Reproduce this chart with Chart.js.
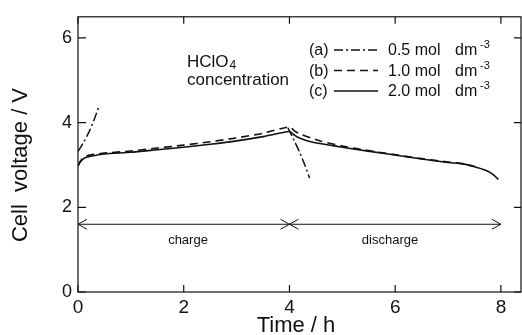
<!DOCTYPE html>
<html>
<head>
<meta charset="utf-8">
<script src="https://cdn.jsdelivr.net/npm/chart.js@4"></script>
<style>
  html, body { margin: 0; padding: 0; background: #fff; overflow: hidden; }
  canvas { display: block; }
</style>
</head>
<body>
<canvas id="cell" width="522" height="335"></canvas>
<script>
// (c) 2.0 mol dm-3, full charge then discharge
const timeC = [0, 0.05, 0.13, 0.3, 0.5, 1.0, 1.5, 2.0, 2.5, 3.0, 3.5, 4.0, 4.1, 4.2, 4.4, 4.75, 5.0, 5.3, 5.8, 6.5, 7.0, 7.3, 7.5, 7.7, 7.85, 7.95];
const voltC = [2.98, 3.08, 3.17, 3.22, 3.26, 3.30, 3.36, 3.42, 3.49, 3.57, 3.67, 3.79, 3.70, 3.63, 3.55, 3.47, 3.42, 3.36, 3.27, 3.14, 3.06, 3.02, 2.96, 2.88, 2.78, 2.66];

// (b) 1.0 mol dm-3
const timeB = [0, 0.05, 0.13, 0.3, 0.5, 1.0, 1.5, 2.0, 2.5, 3.0, 3.5, 4.0, 4.1, 4.2, 4.4, 4.6, 5.0, 5.3, 5.8, 6.5, 7.0, 7.3, 7.5];
const voltB = [2.99, 3.10, 3.20, 3.25, 3.28, 3.33, 3.40, 3.47, 3.55, 3.64, 3.75, 3.90, 3.80, 3.73, 3.64, 3.56, 3.45, 3.38, 3.28, 3.15, 3.07, 3.03, 2.97];

// (a) 0.5 mol dm-3, short charge and short discharge
const timeAcharge = [0, 0.1, 0.2, 0.3, 0.4];
const voltAcharge = [3.32, 3.52, 3.76, 4.05, 4.4];
const timeAdis = [3.97, 4.1, 4.2, 4.3, 4.38];
const voltAdis = [3.88, 3.55, 3.28, 2.97, 2.69];

const xTicks = [0, 2, 4, 6, 8];
const yTicks = [0, 2, 4, 6];
const arrowLevel = 1.6;

const FONT = '"Liberation Sans", Arial, Helvetica, sans-serif';
const INK = '#111';

const pts = (t, v) => t.map((x, i) => ({ x: x, y: v[i] }));
const dataA = pts(timeAcharge, voltAcharge).concat([{ x: 2, y: null }], pts(timeAdis, voltAdis));

const legendRows = [
  { tag: '(a)', dash: [9, 3, 2, 3], conc: '0.5 mol' },
  { tag: '(b)', dash: [8, 5], conc: '1.0 mol' },
  { tag: '(c)', dash: [], conc: '2.0 mol' }
];

const framePlugin = {
  id: 'frame',
  afterDraw(chart) {
    const { ctx, chartArea: a, scales: { x, y } } = chart;
    ctx.save();
    ctx.strokeStyle = INK;
    ctx.fillStyle = INK;
    ctx.lineWidth = 1.2;
    ctx.strokeRect(a.left, a.top, a.right - a.left, a.bottom - a.top);

    // ticks pointing inward on all four sides
    ctx.beginPath();
    xTicks.forEach(v => {
      const px = x.getPixelForValue(v);
      ctx.moveTo(px, a.bottom); ctx.lineTo(px, a.bottom - 7);
      ctx.moveTo(px, a.top); ctx.lineTo(px, a.top + 7);
    });
    yTicks.forEach(v => {
      const py = y.getPixelForValue(v);
      ctx.moveTo(a.left, py); ctx.lineTo(a.left + 8, py);
      ctx.moveTo(a.right, py); ctx.lineTo(a.right - 7, py);
    });
    ctx.stroke();

    // axis titles
    ctx.font = '22px ' + FONT;
    ctx.textAlign = 'center';
    ctx.textBaseline = 'alphabetic';
    ctx.fillText('Time / h', 296, 332);
    ctx.save();
    ctx.translate(27, 165);
    ctx.rotate(-Math.PI / 2);
    ctx.fillText('Cell  voltage / V', 0, 0);
    ctx.restore();

    // charge / discharge arrows
    const ya = y.getPixelForValue(arrowLevel);
    const x0 = x.getPixelForValue(0), x4 = x.getPixelForValue(4), x8 = x.getPixelForValue(8);
    ctx.lineWidth = 1;
    ctx.beginPath();
    ctx.moveTo(x0, ya); ctx.lineTo(x8, ya);
    const head = (px, dir) => {
      ctx.moveTo(px - dir * 9, ya - 5); ctx.lineTo(px, ya); ctx.lineTo(px - dir * 9, ya + 5);
    };
    head(x0, -1); head(x4, 1); head(x4, -1); head(x8, 1);
    ctx.stroke();
    ctx.font = '13px ' + FONT;
    ctx.fillText('charge', 188, 244);
    ctx.fillText('discharge', 390, 244);

    // legend block
    ctx.textAlign = 'left';
    ctx.font = '17px ' + FONT;
    ctx.fillText('HClO', 187, 67);
    const w = ctx.measureText('HClO').width;
    ctx.font = '12px ' + FONT;
    ctx.fillText('4', 187 + w + 1, 69);
    ctx.font = '17px ' + FONT;
    ctx.fillText('concentration', 187, 85);

    legendRows.forEach((r, i) => {
      const base = 55 + i * 20.5;
      ctx.font = '16px ' + FONT;
      ctx.fillText(r.tag, 309, base);
      ctx.fillText(r.conc, 388, base);
      ctx.fillText('dm', 455, base);
      ctx.font = '11px ' + FONT;
      ctx.fillText('-3', 480, base - 7);
      ctx.lineWidth = 1.5;
      ctx.setLineDash(r.dash);
      ctx.beginPath();
      ctx.moveTo(334, base - 5); ctx.lineTo(378, base - 5);
      ctx.stroke();
      ctx.setLineDash([]);
    });
    ctx.restore();
  }
};

const axisTicks = size => ({
  stepSize: 2, includeBounds: false, color: INK, maxRotation: 0,
  font: { family: FONT, size: size }
});

new Chart(document.getElementById('cell'), {
  type: 'line',
  data: {
    datasets: [
      { data: pts(timeC, voltC), borderColor: INK, borderWidth: 1.6, pointRadius: 0, tension: 0.2 },
      { data: pts(timeB, voltB), borderColor: INK, borderWidth: 1.6, borderDash: [8, 5], pointRadius: 0, tension: 0.2 },
      { data: dataA, borderColor: INK, borderWidth: 1.5, borderDash: [9, 3, 2, 3], pointRadius: 0, tension: 0.2, spanGaps: false }
    ]
  },
  options: {
    responsive: false,
    animation: false,
    layout: { padding: { top: 15, right: 1, left: 0, bottom: 0 } },
    plugins: { legend: { display: false }, tooltip: { enabled: false } },
    scales: {
      x: {
        type: 'linear', min: 0, max: 8.38,
        afterFit: s => { s.height = 43; },
        grid: { display: false, drawTicks: false }, border: { display: false },
        ticks: Object.assign(axisTicks(19), { padding: 4 })
      },
      y: {
        type: 'linear', min: 0, max: 6.5,
        afterFit: s => { s.width = 78; },
        grid: { display: false, drawTicks: false }, border: { display: false },
        ticks: Object.assign(axisTicks(18), { padding: 6 })
      }
    }
  },
  plugins: [framePlugin]
});
</script>
</body>
</html>
